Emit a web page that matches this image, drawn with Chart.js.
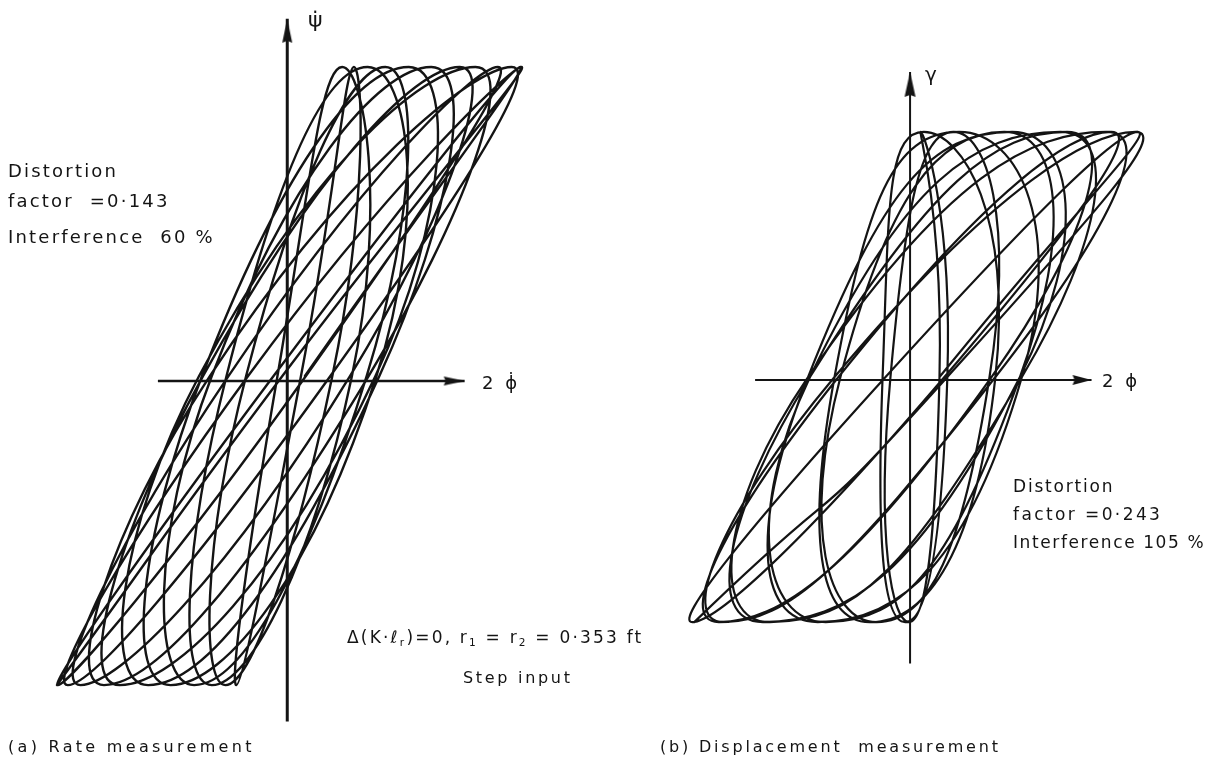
<!DOCTYPE html>
<html>
<head>
<meta charset="utf-8">
<script src="https://cdn.jsdelivr.net/npm/chart.js@4.4.1/dist/chart.umd.min.js"></script>
<style>
  html, body { margin: 0; padding: 0; background: #fff; }
  #wrap { position: relative; width: 1227px; height: 758px; overflow: hidden; background: #fff; }
  #wrap canvas { position: absolute; top: 0; }
  #rate { left: 0; }
  #disp { left: 600px; }
  .t { position: absolute; font-family: "DejaVu Sans", sans-serif; color: #141414; white-space: pre; line-height: 1; }
  .t sub { font-size: 0.62em; vertical-align: -0.25em; line-height: 0; }
</style>
</head>
<body>
<div id="wrap">
  <canvas id="rate" width="600" height="758"></canvas>
  <canvas id="disp" width="627" height="758"></canvas>

  <div class="t" style="left:308px;top:9px;font-size:22px;">ψ̇</div>
  <div class="t" style="left:482px;top:374px;font-size:18px;letter-spacing:3px;">2 ϕ̇</div>
  <div class="t" style="left:8px;top:162px;font-size:18px;letter-spacing:2.2px;">Distortion</div>
  <div class="t" style="left:8px;top:192px;font-size:18px;letter-spacing:2.2px;">factor  =0·143</div>
  <div class="t" style="left:8px;top:228px;font-size:18px;letter-spacing:2.2px;">Interference  60 %</div>
  <div class="t" style="left:347px;top:629px;font-size:17px;letter-spacing:2.2px;">Δ(K·ℓ<sub>r</sub>)=0, r<sub>1</sub> = r<sub>2</sub> = 0·353 ft</div>
  <div class="t" style="left:463px;top:670px;font-size:16px;letter-spacing:2.7px;">Step input</div>
  <div class="t" style="left:8px;top:739px;font-size:16px;letter-spacing:3.3px;">(a) Rate measurement</div>

  <div class="t" style="left:925px;top:64px;font-size:20px;">γ</div>
  <div class="t" style="left:1102px;top:372px;font-size:18px;letter-spacing:3px;">2 ϕ</div>
  <div class="t" style="left:1013px;top:478px;font-size:17px;letter-spacing:1.8px;">Distortion</div>
  <div class="t" style="left:1013px;top:506px;font-size:17px;letter-spacing:2.4px;">factor =0·243</div>
  <div class="t" style="left:1013px;top:534px;font-size:17px;letter-spacing:1.6px;">Interference 105 %</div>
  <div class="t" style="left:660px;top:739px;font-size:16px;letter-spacing:2.8px;">(b) Displacement  measurement</div>
</div>

<script>
// (a) rate measurement: 2φ̇ (x) against ψ̇ (y), one continuous trace.
// Points follow each loop: upper turning point, crossing at mid height,
// lower turning point, crossing at mid height, then the next loop.
const rateX = [
   0.18,
   2.38, -0.14, -2.34,  0.19,
   2.15, -0.60, -2.11,  0.64,
   1.76, -0.86, -1.71,  0.90,
   1.24, -0.87, -1.19,  0.91,
   0.82, -0.62, -0.77,  0.66,
   0.56, -0.10, -0.52,  0.14,
   0.68,  0.46, -0.63, -0.42,
   1.00,  0.81, -0.95, -0.77,
   1.47,  0.94, -1.42, -0.90,
   1.92,  0.83, -1.87, -0.79,
   2.29,  0.44, -2.24, -0.40,
   2.39, -0.05, -2.35
];
const rateY = [
   0.05,
   3.19, 0.05, -3.09, 0.05,
   3.19, 0.05, -3.09, 0.05,
   3.19, 0.05, -3.09, 0.05,
   3.19, 0.05, -3.09, 0.05,
   3.19, 0.05, -3.09, 0.05,
   3.19, 0.05, -3.09, 0.05,
   3.19, 0.05, -3.09, 0.05,
   3.19, 0.05, -3.09, 0.05,
   3.19, 0.05, -3.09, 0.05,
   3.19, 0.05, -3.09, 0.05,
   3.19, 0.05, -3.09, 0.05,
   3.19, 0.05, -3.09
];

// (b) displacement measurement: 2φ (x) against γ (y).
const dispX = [
   0.30,
   2.32, -0.25, -2.22,  0.35,
   2.05, -0.73, -1.95,  0.83,
   1.60, -1.02, -1.50,  1.12,
   1.04, -1.04, -0.94,  1.14,
   0.50, -0.77, -0.41,  0.87,
   0.14, -0.28, -0.05,  0.38,
   0.11,  0.30, -0.01, -0.20,
   0.44,  0.81, -0.34, -0.71,
   0.96,  1.12, -0.86, -1.02,
   1.53,  1.14, -1.43, -1.04,
   2.00,  0.87, -1.90, -0.77,
   2.30,  0.38, -2.20, -0.28,
   2.34, -0.18, -2.24
];
const dispY = [
   0.03,
   2.52, 0.03, -2.46, 0.03,
   2.52, 0.03, -2.46, 0.03,
   2.52, 0.03, -2.46, 0.03,
   2.52, 0.03, -2.46, 0.03,
   2.52, 0.03, -2.46, 0.03,
   2.52, 0.03, -2.46, 0.03,
   2.52, 0.03, -2.46, 0.03,
   2.52, 0.03, -2.46, 0.03,
   2.52, 0.03, -2.46, 0.03,
   2.52, 0.03, -2.46, 0.03,
   2.52, 0.03, -2.46, 0.03,
   2.52, 0.03, -2.46
];

// Axis extents (horizontal from..to, vertical from..to), arrow at the second end
const rateAxisH = [-1.32, 1.81];
const rateAxisV = [-3.46, 3.68];
const dispAxisH = [-1.58, 1.85];
const dispAxisV = [-2.88, 3.13];

const INK = '#141414';

// Long narrow arrowhead; the tip sits at the image centre so it lands on the point
function arrowHead(len, half) {
  const c = document.createElement('canvas');
  c.width = Math.ceil(len * 2) + 4;
  c.height = Math.ceil(half * 2) + 4;
  const g = c.getContext('2d');
  const cx = c.width / 2, cy = c.height / 2;
  g.fillStyle = INK;
  g.beginPath();
  g.moveTo(cx, cy);
  g.lineTo(cx - len, cy - half);
  g.lineTo(cx - len + 2, cy);
  g.lineTo(cx - len, cy + half);
  g.closePath();
  g.fill();
  return c;
}

function toPoints(xs, ys) {
  return xs.map((x, i) => ({ x: x, y: ys[i] }));
}

function axisSet(points, width, head, rotation) {
  return {
    data: points,
    showLine: true,
    borderColor: INK,
    borderWidth: width,
    borderCapStyle: 'butt',
    tension: 0,
    pointRadius: [0, 6],
    pointStyle: [false, head],
    rotation: [0, rotation],
    pointBackgroundColor: INK,
    pointBorderWidth: 0
  };
}

function drawPanel(id, xs, ys, axisH, axisV, frame, trace, axisW, heads) {
  new Chart(document.getElementById(id), {
    type: 'scatter',
    data: {
      datasets: [
        {
          data: toPoints(xs, ys),
          showLine: true,
          borderColor: INK,
          borderWidth: trace.width,
          borderJoinStyle: 'round',
          borderCapStyle: 'round',
          tension: trace.tension,
          pointRadius: 0
        },
        axisSet([{ x: axisH[0], y: 0 }, { x: axisH[1], y: 0 }], axisW[0], heads[0], 0),
        axisSet([{ x: 0, y: axisV[0] }, { x: 0, y: axisV[1] }], axisW[1], heads[1], -90)
      ]
    },
    options: {
      responsive: false,
      animation: false,
      events: [],
      layout: { padding: 0 },
      plugins: { legend: { display: false }, tooltip: { enabled: false }, title: { display: false } },
      scales: {
        x: { type: 'linear', display: false, min: frame[0], max: frame[1] },
        y: { type: 'linear', display: false, min: frame[2], max: frame[3] }
      }
    }
  });
}

drawPanel('rate', rateX, rateY, rateAxisH, rateAxisV,
  [-2.87, 3.13, -3.77, 3.81], { width: 2.4, tension: 0.58 }, [2.4, 3.0],
  [arrowHead(21, 4.5), arrowHead(24, 5)]);

drawPanel('disp', dispX, dispY, dispAxisH, dispAxisV,
  [-3.10, 3.17, -3.78, 3.80], { width: 2.2, tension: 0.68 }, [2.2, 2.0],
  [arrowHead(19, 5), arrowHead(25, 5.5)]);
</script>
</body>
</html>
